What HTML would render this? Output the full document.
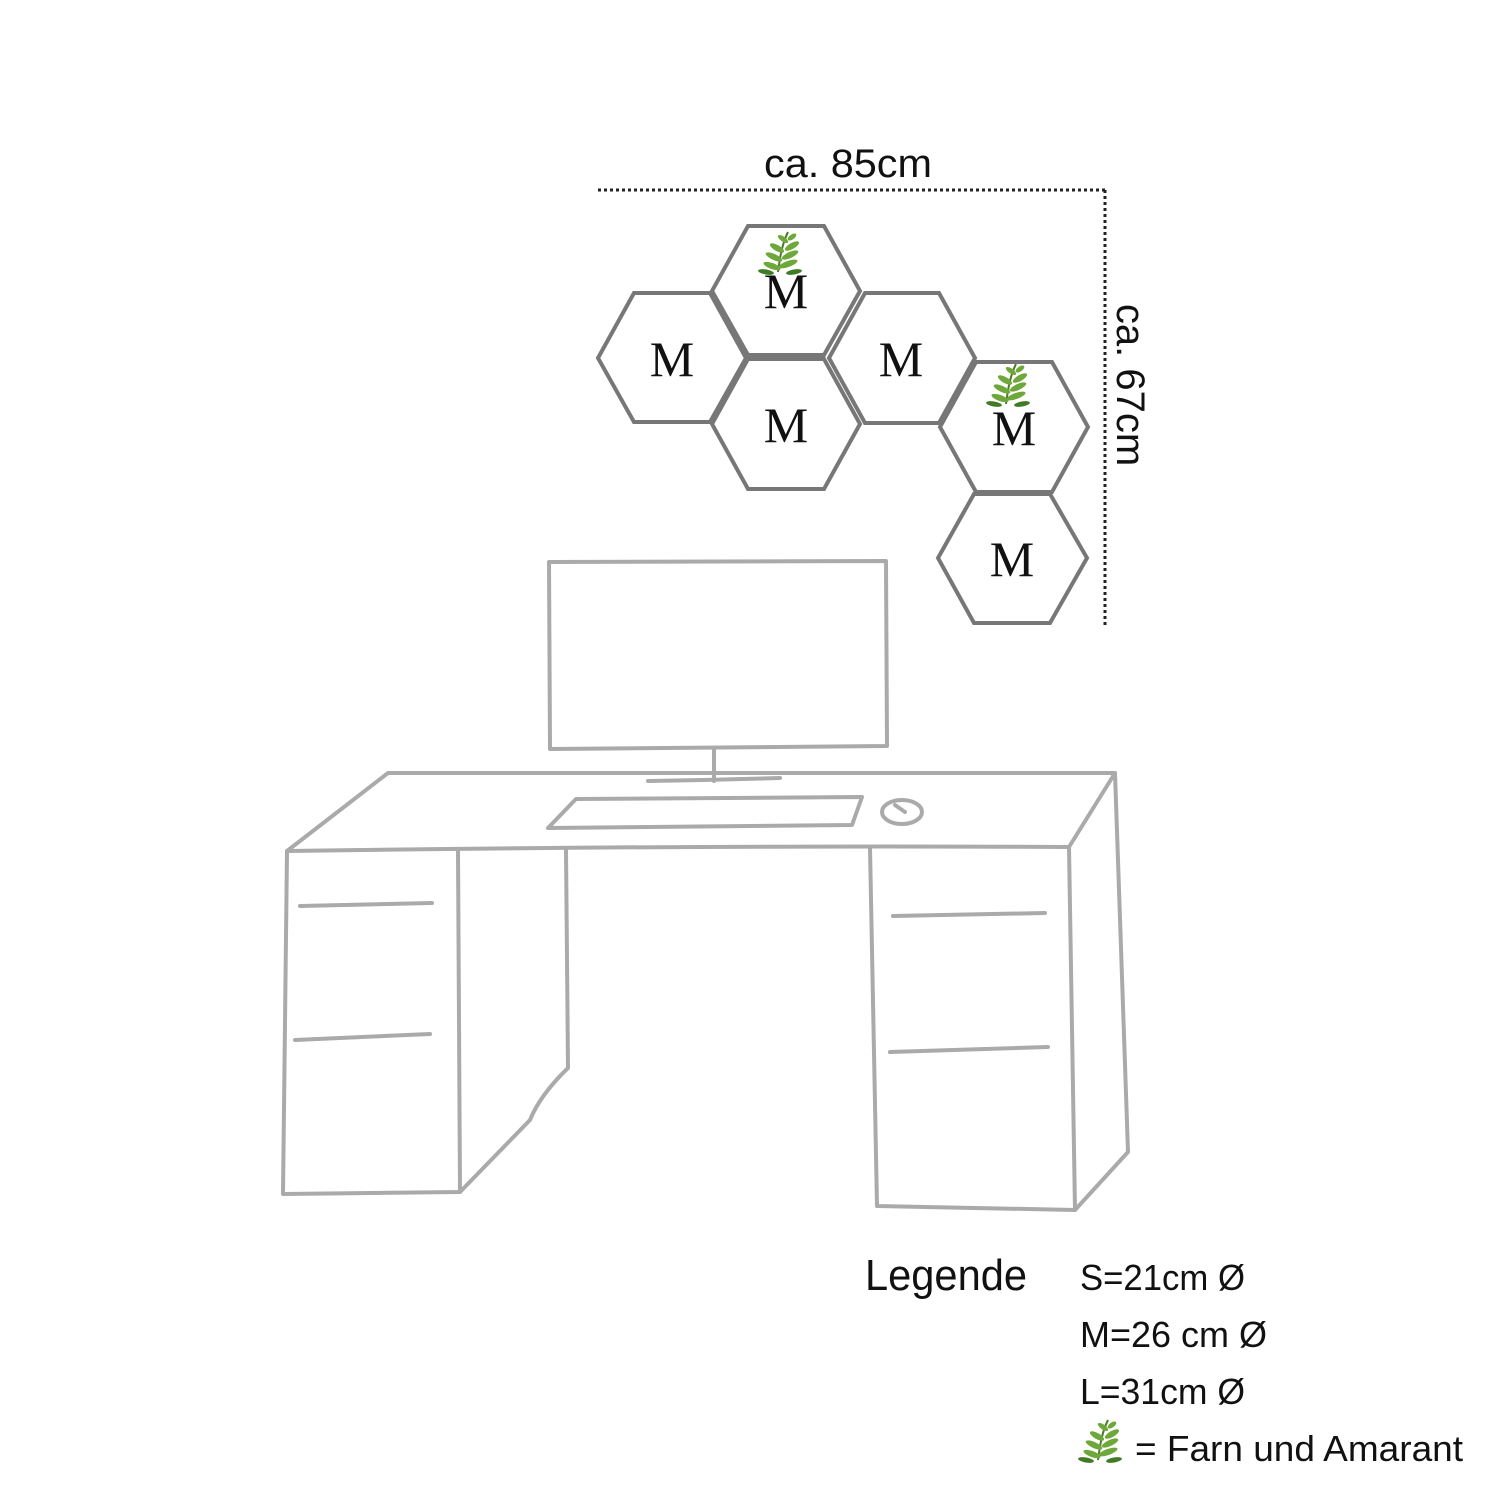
<!DOCTYPE html>
<html><head><meta charset="utf-8"><style>
html,body{margin:0;padding:0;background:#fff;}
svg{display:block}
</style></head><body>
<svg width="1500" height="1500" viewBox="0 0 1500 1500" xmlns="http://www.w3.org/2000/svg">
<defs>
<g id="fern">
  <path d="M0,40 C2,25 4,12 10,0" stroke="#4a7a2a" stroke-width="2" fill="none"/>
  <g fill="#6ea83a">
    <ellipse cx="-6" cy="34" rx="9" ry="3" transform="rotate(20 -6 34)"/>
    <ellipse cx="10" cy="32" rx="10" ry="3" transform="rotate(-20 10 32)"/>
    <ellipse cx="-4" cy="25" rx="9" ry="3" transform="rotate(25 -4 25)"/>
    <ellipse cx="12" cy="23" rx="9" ry="3" transform="rotate(-25 12 23)"/>
    <ellipse cx="-1" cy="16" rx="8" ry="3" transform="rotate(30 -1 16)"/>
    <ellipse cx="14" cy="14" rx="8" ry="3" transform="rotate(-30 14 14)"/>
    <ellipse cx="5" cy="7" rx="6" ry="2.5" transform="rotate(35 5 7)"/>
    <ellipse cx="14" cy="5" rx="5" ry="2.5" transform="rotate(-35 14 5)"/>
  </g>
  <g fill="#3f7a25">
    <ellipse cx="-12" cy="40" rx="8" ry="2.5" transform="rotate(10 -12 40)"/>
    <ellipse cx="16" cy="40" rx="8" ry="2.5" transform="rotate(-10 16 40)"/>
  </g>
</g>
</defs>
<g stroke="#777" stroke-width="4" fill="#fff">
  <polygon points="598,358 634,293 710,293 746,358 710,422 634,422"/>
  <polygon points="712,291 748,226 824,226 860,291 824,355 748,355"/>
  <polygon points="712,424 748,359 824,359 860,424 824,489 748,489"/>
  <polygon points="829,358 865,293 939,293 975,358 939,423 865,423"/>
  <polygon points="940,427 976,362 1052,362 1088,427 1052,492 976,492"/>
  <polygon points="938,558 974,494 1050,494 1087,558 1050,623 974,623"/>
</g>
<use href="#fern" x="778" y="232"/>
<use href="#fern" x="1006" y="364"/>
<g font-family="Liberation Serif, serif" font-size="50" fill="#111" text-anchor="middle">
  <text x="672" y="376">M</text>
  <text x="786" y="308">M</text>
  <text x="786" y="442">M</text>
  <text x="901" y="376">M</text>
  <text x="1014" y="445">M</text>
  <text x="1012" y="576">M</text>
</g>
<g stroke="#222" stroke-width="3" stroke-dasharray="3,3" fill="none">
  <line x1="598" y1="190" x2="1105" y2="190"/>
  <line x1="1105" y1="190" x2="1105" y2="626"/>
</g>
<text x="764" y="177" font-family="Liberation Sans, sans-serif" font-size="40" textLength="168" lengthAdjust="spacingAndGlyphs" fill="#111">ca. 85cm</text>
<text transform="translate(1117,385) rotate(90)" font-family="Liberation Sans, sans-serif" font-size="40" text-anchor="middle" fill="#111">ca. 67cm</text>
<g stroke="#aaa" stroke-width="4" fill="none" stroke-linejoin="round" stroke-linecap="round">
  <path d="M549,562 L886,561 L887,746 L550,749 Z"/>
  <path d="M714,749 L714,781"/>
  <path d="M648,781 Q714,780 780,778"/>
  <path d="M287,851 L388,773 L1115,773 L1069,847 Q700,845 287,851 Z"/>
  <path d="M1115,773 L1128,1152 L1075,1210"/>
  <path d="M870,848 L877,1206 L1075,1210 L1069,847"/>
  <path d="M287,851 L283,1194 L460,1192 L458,850"/>
  <path d="M566,850 L568,1068 Q540,1095 530,1120 L460,1192"/>
  <path d="M300,906 L432,903"/>
  <path d="M295,1040 L430,1034"/>
  <path d="M893,916 L1045,913"/>
  <path d="M890,1052 L1048,1047"/>
  <path d="M576,799 L862,797 L852,825 L548,828 Z"/>
  <ellipse cx="902" cy="812" rx="20" ry="12"/>
  <path d="M895,805 L905,812"/>
</g>
<g font-family="Liberation Sans, sans-serif" fill="#111" lengthAdjust="spacingAndGlyphs">
  <text x="865" y="1290" font-size="44" textLength="162" lengthAdjust="spacingAndGlyphs">Legende</text>
  <text x="1080" y="1290" font-size="36" textLength="165" lengthAdjust="spacingAndGlyphs">S=21cm Ø</text>
  <text x="1080" y="1347" font-size="36" textLength="187" lengthAdjust="spacingAndGlyphs">M=26 cm Ø</text>
  <text x="1080" y="1404" font-size="36" textLength="165" lengthAdjust="spacingAndGlyphs">L=31cm Ø</text>
  <text x="1135" y="1461" font-size="36" textLength="328" lengthAdjust="spacingAndGlyphs">= Farn und Amarant</text>
</g>
<use href="#fern" x="1098" y="1420"/>
</svg>
</body></html>
